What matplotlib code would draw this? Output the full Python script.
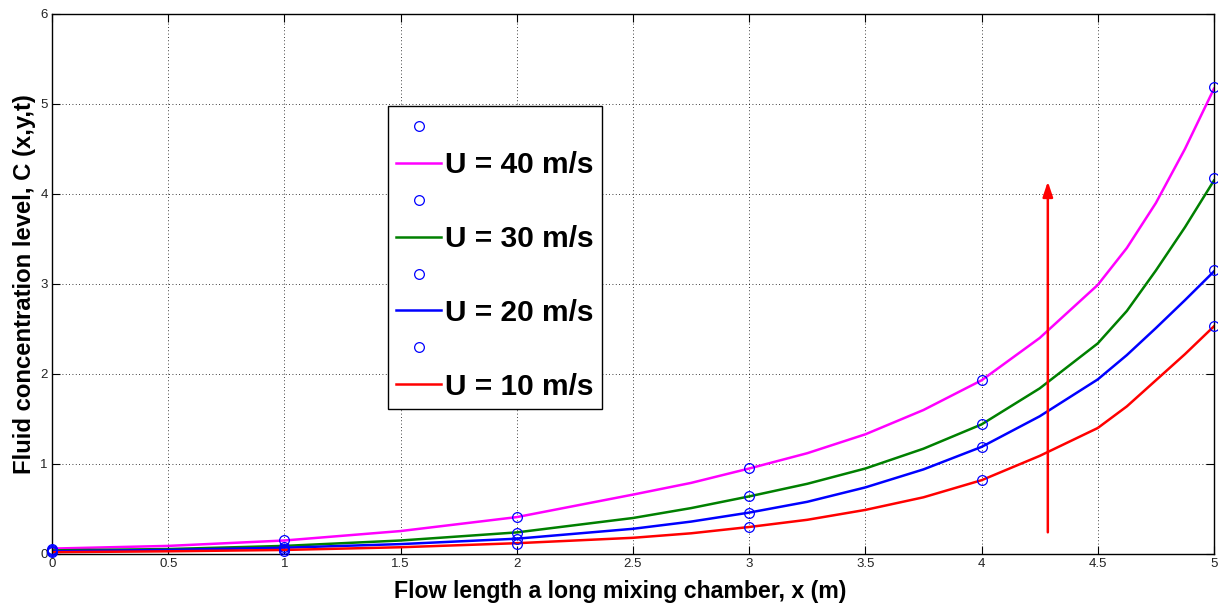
import matplotlib.pyplot as plt
import numpy as np

plt.rcParams['font.family'] = ['Liberation Sans', 'DejaVu Sans']

# curve values
x_line = [0, 0.5, 1, 1.5, 2, 2.5, 2.75, 3, 3.25, 3.5, 3.75, 4, 4.25, 4.5,
          4.625, 4.75, 4.875, 5]
c_u40 = [0.06, 0.09, 0.15, 0.255, 0.41, 0.66, 0.79, 0.95, 1.12, 1.33, 1.60,
         1.93, 2.40, 2.99, 3.40, 3.90, 4.50, 5.17]
c_u30 = [0.04, 0.055, 0.09, 0.15, 0.24, 0.40, 0.51, 0.64, 0.78, 0.95, 1.17,
         1.44, 1.84, 2.34, 2.70, 3.15, 3.63, 4.15]
c_u20 = [0.03, 0.045, 0.07, 0.11, 0.17, 0.28, 0.36, 0.46, 0.58, 0.74, 0.94,
         1.19, 1.53, 1.94, 2.21, 2.51, 2.82, 3.14]
c_u10 = [0.02, 0.03, 0.045, 0.075, 0.12, 0.18, 0.23, 0.30, 0.38, 0.49, 0.63,
         0.82, 1.09, 1.40, 1.64, 1.93, 2.22, 2.53]

# marker points
x_pts = [0, 1, 2, 3, 4, 5]
p_u40 = [0.06, 0.15, 0.41, 0.95, 1.93, 5.19]
p_u30 = [0.04, 0.08, 0.23, 0.64, 1.44, 4.18]
p_u20 = [0.03, 0.06, 0.17, 0.46, 1.19, 3.15]
p_u10 = [0.02, 0.03, 0.11, 0.30, 0.82, 2.53]

labels = ['U = 40 m/s', 'U = 30 m/s', 'U = 20 m/s', 'U = 10 m/s']
colors = ['#ff00ff', '#008000', '#0000ff', '#ff0000']

arrow_x = 4.285
arrow_y = [0.21, 4.17]

fig = plt.figure(figsize=(12.18, 6.05), dpi=100)
ax = fig.add_axes([0.0427, 0.0843, 0.954, 0.8926])

series = [(p_u40, c_u40), (p_u30, c_u30), (p_u20, c_u20), (p_u10, c_u10)]
for (pts, curve), lab, col in zip(series, labels, colors):
    ax.plot(x_pts, pts, 'o', mfc='none', mec='#0000ff', ms=7, mew=0.9,
            label=' ', clip_on=False, zorder=4)
    ax.plot(x_line, curve, '-', color=col, lw=1.8, label=lab)

ax.annotate('', xy=(arrow_x, arrow_y[1]), xytext=(arrow_x, arrow_y[0]),
            arrowprops=dict(arrowstyle='-|>,head_length=0.9,head_width=0.3',
                            color='#ff0000', lw=1.8))

ax.set_xlim(0, 5)
ax.set_ylim(0, 6)
ax.set_xticks(np.arange(0, 5.01, 0.5))
ax.set_xticklabels(['0', '0.5', '1', '1.5', '2', '2.5', '3', '3.5', '4', '4.5', '5'])
ax.set_yticks(range(0, 7))
ax.grid(True, linestyle=(0, (1, 3)), color='black', lw=0.6)
ax.tick_params(direction='in', top=True, right=True, length=6, labelsize=9.5,
               labelcolor='#222222', pad=3)
for s in ax.spines.values():
    s.set_linewidth(1.0)

ax.set_xlabel('Flow length a long mixing chamber, x (m)', fontsize=16.7,
              fontweight='bold')
ax.xaxis.set_label_coords(0.489, -0.049, transform=ax.transAxes)
ax.xaxis.label.set_va('top')
ax.set_ylabel('Fluid concentration level, C (x,y,t)', fontsize=17.2,
              fontweight='bold', labelpad=3)

leg = ax.legend(loc='upper left', bbox_to_anchor=(0.289, 0.83),
                prop={'weight': 'bold', 'size': 21.5}, handlelength=1.5,
                handletextpad=0.15, labelspacing=0.3, borderpad=0.28,
                borderaxespad=0, fancybox=False, framealpha=1,
                edgecolor='black')
leg.get_frame().set_linewidth(1.0)

fig.savefig('out.png', dpi=100)
